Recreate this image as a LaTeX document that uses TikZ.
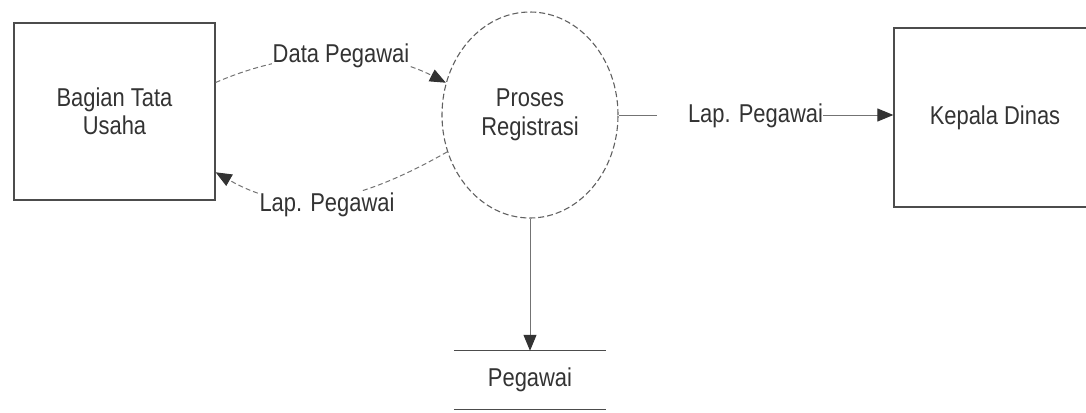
\documentclass[tikz,border=0pt]{standalone}
\usepackage{fontspec}
\setmainfont{Liberation Sans}
\newfontfamily\dfdfont[FakeStretch=0.85]{Liberation Sans}
\usetikzlibrary{arrows.meta,shapes.geometric}
\begin{document}
\begin{tikzpicture}[x=1pt,y=-1pt,
  every node/.style={font=\dfdfont\fontsize{25.8}{28.5}\selectfont, text=black!80},
  entity/.style={draw=black!70, line width=1.3pt, rectangle, inner sep=0pt, align=center},
  process/.style={draw=black!62, line width=1.1pt, dash pattern=on 6pt off 3pt,
    ellipse, inner sep=0pt, align=center, minimum width=176pt, minimum height=206pt},
  store/.style={rectangle, inner sep=0pt, minimum width=152pt, minimum height=58pt},
  storeline/.style={draw=black!70, line width=1.3pt},
  flow/.style={draw=black!55, line width=1pt,
    -{Triangle[length=16pt,width=13pt,color=black!80]}},
  dflow/.style={flow, dash pattern=on 5pt off 3pt},
  flowlabel/.style={fill=white, inner xsep=1pt, inner ysep=2pt}]

\useasboundingbox (0,0) rectangle (1086,412);

% external entities
\node[entity, minimum width=201pt, minimum height=177pt] (tu) at (114.5,111.5) {Bagian Tata\\Usaha};
\node[entity, minimum width=202pt, minimum height=179pt] (kd) at (995,117.5) {Kepala Dinas};

% process
\node[process] (pr) at (530,115) {Proses\\Registrasi};

% data store
\node[store] (ds) at (530,380) {Pegawai};
\draw[storeline] (ds.north west) -- (ds.north east);
\draw[storeline] (ds.south west) -- (ds.south east);

% data flows
\draw[dflow] (tu.16) .. controls (295,48) and (378,48) .. (pr.159);
\node[flowlabel] (l1) at (341,56) {Data Pegawai};

\draw[dflow] (pr.204) .. controls (345,210) and (285,212) .. (tu.329);
\node[flowlabel] (l2) at (327,205) {Lap. Pegawai};

\draw[flow] (pr.east) -- (pr.east -| kd.west);
\node[flowlabel, inner xsep=0pt] (l3) at (740,116) {\hspace*{31pt}Lap. Pegawai};

\draw[flow] (pr.south) -- (pr.south |- ds.north);
\end{tikzpicture}
\end{document}
